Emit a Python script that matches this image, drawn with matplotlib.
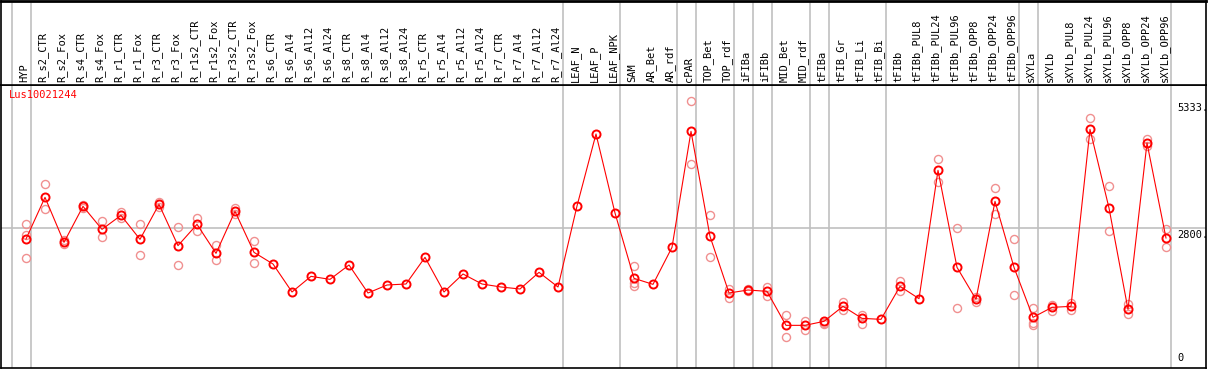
import matplotlib

matplotlib.use("Agg")
import matplotlib.pyplot as plt
import matplotlib.transforms as mtransforms

samples = [
    "HYP", "R_s2_CTR", "R_s2_Fox", "R_s4_CTR", "R_s4_Fox", "R_r1_CTR", "R_r1_Fox",
    "R_r3_CTR", "R_r3_Fox", "R_r1s2_CTR", "R_r1s2_Fox", "R_r3s2_CTR", "R_r3s2_Fox",
    "R_s6_CTR", "R_s6_Al4", "R_s6_Al12", "R_s6_Al24", "R_s8_CTR", "R_s8_Al4",
    "R_s8_Al12", "R_s8_Al24", "R_r5_CTR", "R_r5_Al4", "R_r5_Al12", "R_r5_Al24",
    "R_r7_CTR", "R_r7_Al4", "R_r7_Al12", "R_r7_Al24", "LEAF_N", "LEAF_P", "LEAF_NPK",
    "SAM", "AR_Bet", "AR_rdf", "cPAR", "TOP_Bet", "TOP_rdf", "iFIBa", "iFIBb",
    "MID_Bet", "MID_rdf", "tFIBa", "tFIB_Gr", "tFIB_Li", "tFIB_Bi", "tFIBb",
    "tFIBb_PUL8", "tFIBb_PUL24", "tFIBb_PUL96", "tFIBb_OPP8", "tFIBb_OPP24",
    "tFIBb_OPP96", "sXYLa", "sXYLb", "sXYLb_PUL8", "sXYLb_PUL24", "sXYLb_PUL96",
    "sXYLb_OPP8", "sXYLb_OPP24", "sXYLb_OPP96",
]

mean_expr = [
    2580, 3413, 2513, 3233, 2773, 3053, 2573, 3273, 2447, 2873, 2293, 3133, 2313,
    2080, 1520, 1833, 1773, 2060, 1500, 1660, 1680, 2213, 1520, 1880, 1680,
    1620, 1580, 1913, 1620, 3240, 4680, 3100,
    1793, 1673, 2413, 4733, 2633, 1500, 1560, 1533,
    853, 853, 933, 1233, 993, 973, 1633,
    1387, 3953, 2013, 1373, 3333, 2013,
    1013, 1213, 1233, 4773, 3200, 1173, 4500, 2600,
]

replicates = [
    [2873, 2660, 2193], [3673, 3173], [2553, 2473], [3260, 3193], [2933, 2627],
    [3120, 2993], [2873, 2253], [3327, 3227], [2813, 2053], [3000, 2733],
    [2460, 2153], [3200, 3080], [2533, 2100],
    [], [], [], [], [], [], [], [], [], [], [], [], [], [], [], [], [], [], [],
    [2040, 1707, 1640], [], [], [5333, 4080], [3053, 2213], [1580, 1393],
    [1540, 1580], [1627, 1447],
    [1053, 627], [947, 760], [900, 880], [1320, 1153], [1067, 887], [], [1747, 1533],
    [], [4187, 3713], [2807, 1193], [1427, 1320], [3593, 3073], [2580, 1453],
    [1193, 900, 867], [1267, 1147], [1307, 1153], [4993, 4573], [3633, 2733],
    [1273, 1073], [4587, 4440], [2787, 2413],
]

# last column index of each sample group (a grey rule follows it)
group_ends = [-1, 0, 28, 31, 34, 35, 37, 38, 39, 41, 42, 45, 52, 53, 60]

gene = "Lus10021244"
y_ticks = [5333, 2800, 0]
y_tick_labels = ["5333.", "2800.", "0"]

W, H = 1209, 370
X0, STEP = 26, 19
MONO = "DejaVu Sans Mono"
FS = 7.5


def px_to_x(px):
    return (px - X0) / STEP


def main() -> None:
    fig = plt.figure(figsize=(W / 100, H / 100), dpi=100)
    left, right = 1 / W, 1206 / W
    top_plot, bottom_plot = 1 - 85 / H, 1 - 368 / H
    ax = fig.add_axes([left, bottom_plot, right - left, top_plot - bottom_plot])
    hdr = fig.add_axes([left, top_plot, right - left, 1 - 1 / H - top_plot], sharex=ax)

    ax.set_xlim(px_to_x(1), px_to_x(1206))
    ax.set_ylim(0, 5660)

    for a in (ax, hdr):
        a.set_xticks([])
        a.set_yticks([])
        for s in a.spines.values():
            s.set_color("black")
            s.set_linewidth(1.2)
        for g in group_ends:
            a.axvline(g + 0.25, color="#c0c0c0", lw=1.2, zorder=1)
    hdr.spines["top"].set_linewidth(2)
    hdr.set_ylim(0, 1)

    ax.axhline(2800, color="#c0c0c0", lw=1.2, zorder=1)

    xs = list(range(len(samples)))
    for i, reps in enumerate(replicates):
        if reps:
            ax.plot([i] * len(reps), reps, linestyle="none", marker="o", ms=5.8,
                    mfc="none", mec="#f09090", mew=1.0, zorder=2)
    ax.plot(xs, mean_expr, color="#ff0000", lw=0.8, marker="o", ms=5.8,
            mfc="none", mec="#ff0000", mew=1.4, zorder=3)

    for i, name in enumerate(samples):
        hdr.text(i - 0.1, 0.03, name, rotation=90, ha="center", va="bottom",
                 family=MONO, fontsize=FS, color="black")

    ax.text(8 / 1205, 1 - 5 / 283, gene, transform=ax.transAxes, ha="left",
            va="top", family=MONO, fontsize=FS, color="#ff0000")

    trans = mtransforms.blended_transform_factory(ax.transData, ax.transData)
    for v, lab in zip(y_ticks, y_tick_labels):
        va = "bottom" if v == 0 else "top"
        y = v + 100 if v == 0 else v - 40
        ax.text(px_to_x(1177), y, lab, transform=trans, ha="left", va=va,
                family=MONO, fontsize=FS, color="black")

    fig.savefig("out.png", dpi=100)
    plt.close(fig)


if __name__ == "__main__":
    main()
